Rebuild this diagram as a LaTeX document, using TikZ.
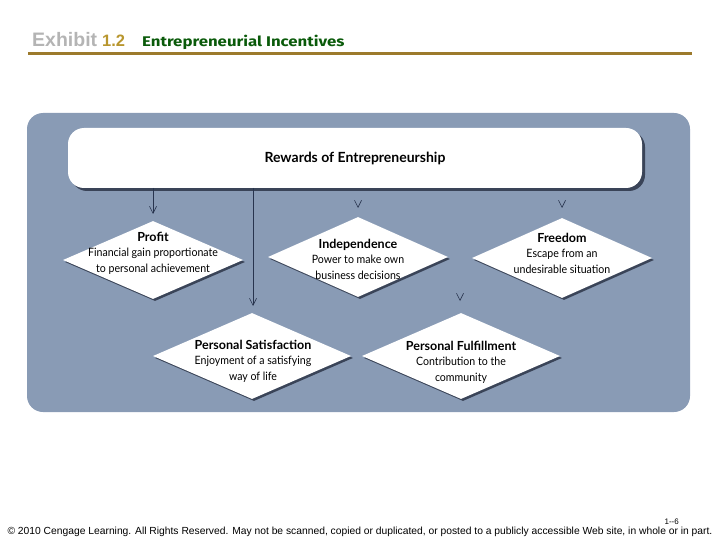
\documentclass[tikz,border=0pt]{standalone}
\usepackage{fontspec}
\setmainfont{Lato}
\newfontfamily\bodyf[FakeStretch=0.92]{Lato}
\newfontfamily\arialf{Liberation Sans}
\newfontfamily\titlef[FakeStretch=1.2]{Fira Sans}
\usetikzlibrary{arrows.meta,shapes.geometric,shadows}
\definecolor{panel}{RGB}{137,155,181}
\definecolor{shadowc}{RGB}{58,68,88}
\definecolor{linec}{RGB}{40,52,78}
\definecolor{exgray}{RGB}{180,180,180}
\definecolor{gold}{RGB}{184,150,46}
\definecolor{titlegreen}{RGB}{10,90,10}
\definecolor{rule}{RGB}{156,122,44}
\newcommand{\dhead}[1]{{\rmfamily\bfseries\fontsize{12.5}{15.5}\selectfont #1}}
\tikzset{
  dia/.style={diamond, fill=white, inner sep=0pt, minimum width=#1, minimum height=80pt,
    drop shadow={shadow xshift=2pt, shadow yshift=-2pt, fill=shadowc, opacity=1}},
  dtext/.style={align=center, font=\bodyf\fontsize{11.5}{15.5}\selectfont, text=black},
  conn/.style={draw=linec, line width=0.6pt, -{Straight Barb[length=7pt,width=7pt,color=linec]}},
  ghost/.style={draw=panel, line width=0.6pt, -{Straight Barb[length=7pt,width=7pt,color=linec]}},
}
\begin{document}
\begin{tikzpicture}[x=1pt,y=-1pt]
\useasboundingbox (0,0) rectangle (720,540);
% title
\node[anchor=base west, inner sep=0pt] (title) at (32,47)
  {{\arialf\bfseries\fontsize{19.5}{22}\selectfont\color{exgray}Exhibit}\hspace{5pt}{\arialf\bfseries\fontsize{16.5}{18}\selectfont\color{gold}1.2}\hspace{17pt}{\titlef\bfseries\fontsize{14}{16}\selectfont\color{titlegreen}Entrepreneurial Incentives}};
\draw[rule, line width=2.5pt] (28,53.5) -- (692,53.5);
% panel
\fill[panel, rounded corners=16pt] (27,113) rectangle (690,412);
% top box
\node[draw=none, fill=white, rounded corners=16pt, minimum width=574pt, minimum height=60pt,
  drop shadow={shadow xshift=3pt, shadow yshift=-3pt, fill=shadowc, opacity=1}] (top) at (355,158) {};
\node[font=\bfseries\fontsize{14}{16}\selectfont] at (top) {Rewards of Entrepreneurship};
% connector start points on the top box
\coordinate (c1) at (153,188);
\coordinate (c2) at (253,188);
\coordinate (c3) at (358,193);
\coordinate (c4) at (562,193);
\coordinate (c5) at (460,193);
% connectors (drawn below diamonds)
\draw[conn] (c1) -- (153,214);
\draw[conn] (c2) -- (253,306);
\draw[ghost] (c3) -- (358,208);
\draw[ghost] (c4) -- (562,208);
\draw[ghost] (c5) -- (460,301);
% diamonds
\node[dia=180pt, minimum height=78pt] (profit) at (153,260) {};
\node[dia=180pt] (indep) at (358,257) {};
\node[dia=180pt] (free) at (562,258) {};
\node[dia=198pt, minimum height=86pt] (sat) at (252,356) {};
\node[dia=198pt, minimum height=86pt] (ful) at (461,356) {};
% texts
\node[dtext] at (153,253) {\dhead{Profit}\\Financial gain proportionate\\to personal achievement};
\node[dtext] at (358,259) {\dhead{Independence}\\Power to make own\\business decisions};
\node[dtext] at (562,253) {\dhead{Freedom}\\Escape from an\\undesirable situation};
\node[dtext] at (253,361) {\dhead{Personal Satisfaction}\\Enjoyment of a satisfying\\way of life};
\node[dtext] at (461,362) {\dhead{Personal Fulfillment}\\Contribution to the\\community};
% footer
\node[anchor=base east, inner sep=0pt, font=\arialf\fontsize{8}{9}\selectfont] (pg) at (679,524) {1--6};
\node[anchor=base, inner sep=0pt, font=\arialf\fontsize{10.3}{11}\selectfont] (copy) at (360,534) {© 2010 Cengage Learning. All Rights Reserved. May not be scanned, copied or duplicated, or posted to a publicly accessible Web site, in whole or in part.};
\end{tikzpicture}
\end{document}
